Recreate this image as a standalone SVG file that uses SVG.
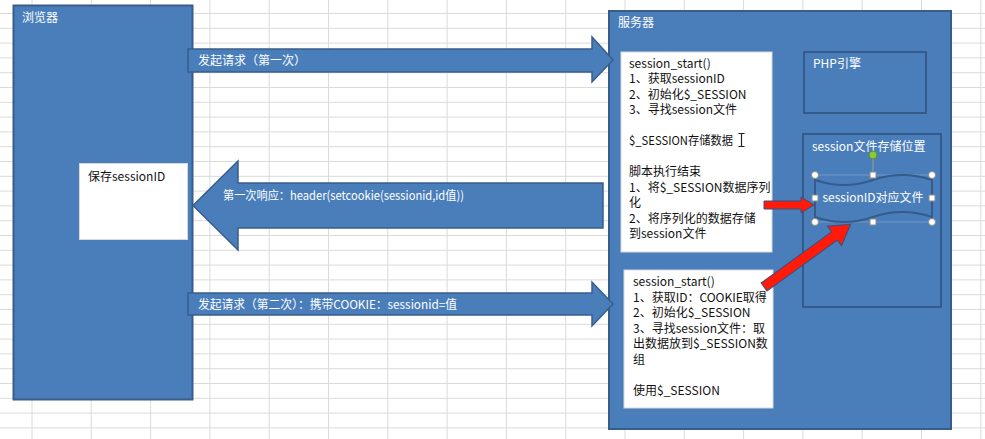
<svg xmlns="http://www.w3.org/2000/svg" width="985" height="439" viewBox="0 0 985 439">
<defs>
<style>
.grid line{stroke:#dadada;stroke-width:1}
.blue{fill:#4a7ebb;stroke:#385d8a;stroke-width:2}
.inner{fill:#4a7ebb;stroke:#345b8c;stroke-width:2}
.white{fill:#ffffff;stroke:#d8d8d8;stroke-width:1}
.arrow{fill:#4a7ebb;stroke:#385d8a;stroke-width:1.5}
.red{fill:#ff1a0a;stroke:#3a4f7a;stroke-width:1}
text{font-family:"Noto Sans CJK SC","Noto Sans",sans-serif;font-size:12px}
.lw{fill:#ffffff}
.lb{fill:#111111}
.hc{fill:#ffffff;stroke:#8a8a8a;stroke-width:1}
</style>
</defs>
<rect x="0" y="0" width="985" height="439" fill="#ffffff"/>
<g class="grid" id="grid">
<line x1="32" y1="0" x2="32" y2="439"/><line x1="91.3" y1="0" x2="91.3" y2="439"/><line x1="150.6" y1="0" x2="150.6" y2="439"/><line x1="209.9" y1="0" x2="209.9" y2="439"/><line x1="269.2" y1="0" x2="269.2" y2="439"/><line x1="328.5" y1="0" x2="328.5" y2="439"/><line x1="387.8" y1="0" x2="387.8" y2="439"/><line x1="447.1" y1="0" x2="447.1" y2="439"/><line x1="506.4" y1="0" x2="506.4" y2="439"/><line x1="565.7" y1="0" x2="565.7" y2="439"/><line x1="625" y1="0" x2="625" y2="439"/><line x1="684.3" y1="0" x2="684.3" y2="439"/><line x1="743.6" y1="0" x2="743.6" y2="439"/><line x1="802.9" y1="0" x2="802.9" y2="439"/><line x1="862.2" y1="0" x2="862.2" y2="439"/><line x1="921.5" y1="0" x2="921.5" y2="439"/><line x1="980.8" y1="0" x2="980.8" y2="439"/>
<line x1="0" y1="13.5" x2="985" y2="13.5"/><line x1="0" y1="28.3" x2="985" y2="28.3"/><line x1="0" y1="43.1" x2="985" y2="43.1"/><line x1="0" y1="57.9" x2="985" y2="57.9"/><line x1="0" y1="72.7" x2="985" y2="72.7"/><line x1="0" y1="87.5" x2="985" y2="87.5"/><line x1="0" y1="102.3" x2="985" y2="102.3"/><line x1="0" y1="117.1" x2="985" y2="117.1"/><line x1="0" y1="131.9" x2="985" y2="131.9"/><line x1="0" y1="146.7" x2="985" y2="146.7"/><line x1="0" y1="161.5" x2="985" y2="161.5"/><line x1="0" y1="176.3" x2="985" y2="176.3"/><line x1="0" y1="191.1" x2="985" y2="191.1"/><line x1="0" y1="205.9" x2="985" y2="205.9"/><line x1="0" y1="220.7" x2="985" y2="220.7"/><line x1="0" y1="235.5" x2="985" y2="235.5"/><line x1="0" y1="250.3" x2="985" y2="250.3"/><line x1="0" y1="265.1" x2="985" y2="265.1"/><line x1="0" y1="279.9" x2="985" y2="279.9"/><line x1="0" y1="294.7" x2="985" y2="294.7"/><line x1="0" y1="309.5" x2="985" y2="309.5"/><line x1="0" y1="324.3" x2="985" y2="324.3"/><line x1="0" y1="339.1" x2="985" y2="339.1"/><line x1="0" y1="353.9" x2="985" y2="353.9"/><line x1="0" y1="368.7" x2="985" y2="368.7"/><line x1="0" y1="383.5" x2="985" y2="383.5"/><line x1="0" y1="398.3" x2="985" y2="398.3"/><line x1="0" y1="413.1" x2="985" y2="413.1"/><line x1="0" y1="427.9" x2="985" y2="427.9"/>
</g>

<g id="browser">
<rect class="blue" x="13.5" y="5.5" width="179" height="394"/>
<text class="lw" x="22" y="22">浏览器</text>
</g>
<g id="saved-session-id">
<rect class="white" x="79.5" y="163.5" width="108" height="76"/>
<text class="lb" x="88" y="180.5">保存sessionID</text>
</g>

<g id="server">
<rect class="blue" x="609" y="11" width="342" height="418"/>
<text class="lw" x="618" y="27">服务器</text>
</g>

<g id="first-request-box">
<rect class="white" x="621" y="52" width="151" height="200"/>
<text class="lb" x="629" y="67.5">session_start()</text>
<text class="lb" x="629" y="83">1、获取sessionID</text>
<text class="lb" x="629" y="98.5">2、初始化$_SESSION</text>
<text class="lb" x="629" y="114">3、寻找session文件</text>
<text class="lb" x="629" y="145" textLength="104" lengthAdjust="spacingAndGlyphs">$_SESSION存储数据</text>
<path d="M738.5,133.5 H744.5 M741.5,133.5 V146.5 M738.5,146.5 H744.5" fill="none" stroke="#222" stroke-width="1.2"/>
<text class="lb" x="629" y="176">脚本执行结束</text>
<text class="lb" x="629" y="191.5">1、将$_SESSION数据序列</text>
<text class="lb" x="629" y="207">化</text>
<text class="lb" x="629" y="222.5">2、将序列化的数据存储</text>
<text class="lb" x="629" y="238">到session文件</text>
</g>

<g id="second-request-box">
<rect class="white" x="624" y="270" width="149" height="138"/>
<text class="lb" x="633" y="286">session_start()</text>
<text class="lb" x="633" y="301.5">1、获取ID：COOKIE取得</text>
<text class="lb" x="633" y="317">2、初始化$_SESSION</text>
<text class="lb" x="633" y="332.5">3、寻找session文件：取</text>
<text class="lb" x="633" y="348">出数据放到$_SESSION数</text>
<text class="lb" x="633" y="363.5">组</text>
<text class="lb" x="633" y="394.5">使用$_SESSION</text>
</g>

<g id="php-engine">
<rect class="inner" x="804" y="52" width="122" height="61"/>
<text class="lw" x="813" y="67.5">PHP引擎</text>
</g>

<g id="session-storage">
<rect class="inner" x="803" y="134" width="138" height="173"/>
<text class="lw" x="812" y="150.5">session文件存储位置</text>
</g>

<g id="session-file">
<rect x="815" y="175" width="117" height="47" fill="none" stroke="#7f9fc8" stroke-width="0.8"/>
<path d="M815,180 Q844,190 873,180 T932,180 L932,217 Q902,207 873,217 T815,217 Z" fill="#4a7ebb" stroke="#345b8c" stroke-width="2"/>
<text class="lw" x="873" y="201.5" text-anchor="middle">sessionID对应文件</text>
<line x1="873" y1="159" x2="873" y2="175" stroke="#9a9a9a" stroke-width="1"/>
<circle cx="873" cy="155" r="4" fill="#8cc63f" stroke="#5e8e2a" stroke-width="1"/>
<circle class="hc" cx="815" cy="175" r="3.5"/>
<circle class="hc" cx="932" cy="175" r="3.5"/>
<circle class="hc" cx="815" cy="222" r="3.5"/>
<circle class="hc" cx="932" cy="222" r="3.5"/>
<rect class="hc" x="870" y="172" width="6" height="6"/>
<rect class="hc" x="870" y="219" width="6" height="6"/>
<rect class="hc" x="812" y="195" width="6" height="6"/>
<rect class="hc" x="929" y="195" width="6" height="6"/>
</g>

<g id="connectors">
<g id="arrow-first-request">
<path class="arrow" d="M188,49 L592,49 L592,37 L613,60 L592,82 L592,72 L188,72 Z"/>
<text class="lw" x="198" y="64.5">发起请求（第一次）</text>
</g>
<g id="arrow-first-response">
<path class="arrow" d="M603,183 L238,183 L238,161 L193,205.5 L238,250 L238,228 L603,228 Z"/>
<text class="lw" x="223" y="199.5" textLength="241" lengthAdjust="spacingAndGlyphs">第一次响应：header(setcookie(sessionid,id值))</text>
</g>
<g id="arrow-second-request">
<path class="arrow" d="M188,293 L592,293 L592,282 L613,304 L592,326 L592,315 L188,315 Z"/>
<text class="lw" x="198" y="308.5" textLength="259" lengthAdjust="spacingAndGlyphs">发起请求（第二次）：携带COOKIE：sessionid=值</text>
</g>
<path id="red-arrow-store" class="red" d="M764,201 L801,201 L801,197 L814,205 L801,213 L801,209 L764,209 Z"/>
<path id="red-arrow-read" class="red" transform="translate(764,287) rotate(-35.9)" d="M0,-5 L87,-5 L87,-12 L107,0 L87,12 L87,5 L0,5 Z"/>
</g>
</svg>
